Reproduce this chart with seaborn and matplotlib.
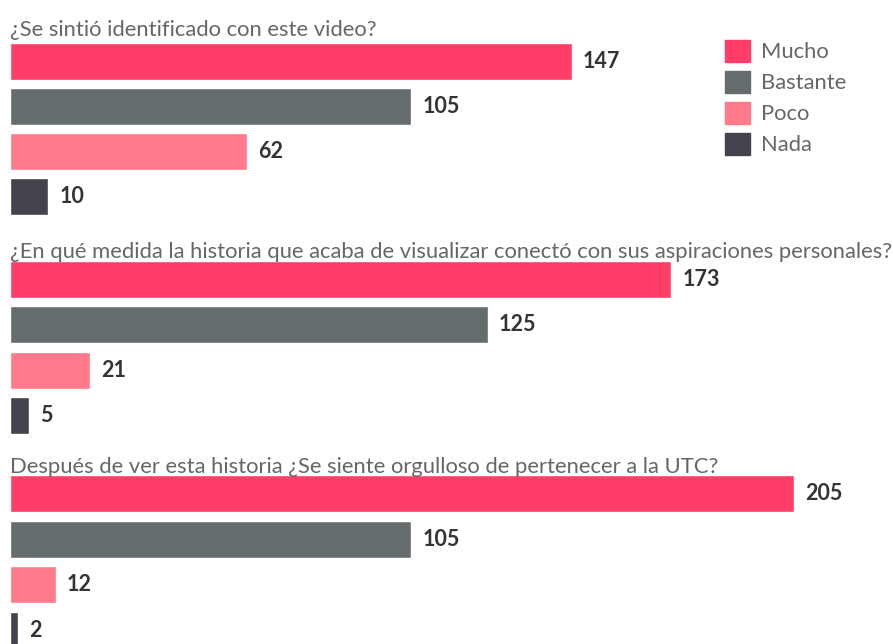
import pandas as pd
import seaborn as sns
import matplotlib.pyplot as plt

# survey answers, one list per question
categories = ["Mucho", "Bastante", "Poco", "Nada"]
questions = [
    "¿Se sintió identificado con este video?",
    "¿En qué medida la historia que acaba de visualizar conectó con sus aspiraciones personales?",
    "Después de ver esta historia ¿Se siente orgulloso de pertenecer a la UTC?",
]
q1_values = [147, 105, 62, 10]
q2_values = [173, 125, 21, 5]
q3_values = [205, 105, 12, 2]

colors = {"Mucho": "#FF3D66", "Bastante": "#656C6D", "Poco": "#FF7A8A", "Nada": "#42434D"}

rows = []
for q, vals in zip(questions, [q1_values, q2_values, q3_values]):
    for c, v in zip(categories, vals):
        rows.append({"question": q, "category": c, "value": v})
df = pd.DataFrame(rows)

sns.set_style("white")
plt.rcParams["font.family"] = ["Lato", "DejaVu Sans"]

W, H = 893, 644
fig = plt.figure(figsize=(W / 100, H / 100), dpi=100)

# pixel layout: (axes top, axes bottom, title baseline)
layout = [(39, 219, 36), (256.5, 438.5, 258), (471, 653, 473)]
px_per_unit = 3.823
x0 = 10

axes = []
for q, (top, bottom, base) in zip(questions, layout):
    ax = fig.add_axes([x0 / W, (H - bottom) / H, (W - x0 - 10) / W, (bottom - top) / H])
    sub = df[df["question"] == q]
    sns.barplot(data=sub, x="value", y="category", hue="category", order=categories,
                hue_order=categories, palette=colors, width=0.82, legend=False,
                saturation=1, ax=ax)
    ax.set_xlim(0, (W - x0 - 10) / px_per_unit)
    ax.set_ylim(3.5, -0.5)
    ax.axis("off")
    for cont in ax.containers:
        ax.bar_label(cont, padding=8, fontsize=15.5, fontweight="bold", color="#333333")
    fig.text(x0 / W, 1 - base / H, q, fontsize=15.8, color="#666666", va="baseline",
             ha="left")
    axes.append(ax)

handles = [plt.Rectangle((0, 0), 1, 1, color=colors[c]) for c in categories]
fig.legend(handles, categories, loc="upper left", bbox_to_anchor=(716 / W, 1 - 31 / H),
           frameon=False, fontsize=15.8, handlelength=1.15, handleheight=1.15,
           handletextpad=0.5, labelspacing=0.4, labelcolor="#666666", borderaxespad=0)

fig.savefig("out.png", dpi=100)
